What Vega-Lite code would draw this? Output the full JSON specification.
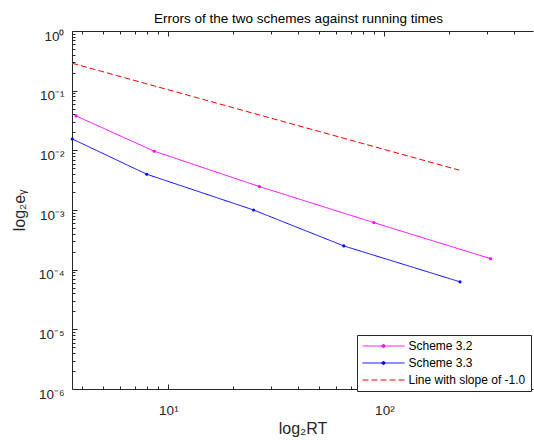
{
  "$schema": "https://vega.github.io/schema/vega-lite/v6.json",
  "width": 461,
  "height": 358,
  "autosize": {"type": "none"},
  "padding": {"left": 72, "top": 31, "right": 1, "bottom": 57},
  "background": "white",
  "title": {"text": "Errors of the two schemes against running times", "fontSize": 13.5, "fontWeight": "normal", "font": "Liberation Sans", "color": "#000000", "offset": 4, "dx": -4, "anchor": "middle"},
  "config": {
    "view": {"stroke": null},
    "font": "Liberation Sans",
    "axis": {"grid": false, "domainColor": "#262626", "tickColor": "#262626", "labelColor": "#262626", "titleColor": "#262626", "labelFont": "Liberation Sans", "titleFont": "Liberation Sans", "domainWidth": 1, "tickWidth": 1}
  },
  "data": {"values": [
    {"series": "Scheme 3.2", "x": 3.74, "y": 0.0377},
    {"series": "Scheme 3.2", "x": 8.61, "y": 0.00966},
    {"series": "Scheme 3.2", "x": 26.4, "y": 0.00247},
    {"series": "Scheme 3.2", "x": 89.4, "y": 0.000615},
    {"series": "Scheme 3.2", "x": 310, "y": 0.000153},
    {"series": "Scheme 3.3", "x": 3.59, "y": 0.0155},
    {"series": "Scheme 3.3", "x": 7.94, "y": 0.00398},
    {"series": "Scheme 3.3", "x": 24.8, "y": 0.001},
    {"series": "Scheme 3.3", "x": 64.9, "y": 0.00025},
    {"series": "Scheme 3.3", "x": 224, "y": 0.0000625},
    {"series": "Line with slope of -1.0", "x": 3.59, "y": 0.288},
    {"series": "Line with slope of -1.0", "x": 222, "y": 0.00466}
  ]},
  "resolve": {"axis": {"x": "independent", "y": "independent"}},
  "layer": [
    {
      "mark": {"type": "line", "strokeWidth": 1},
      "encoding": {
        "x": {"field": "x", "type": "quantitative", "scale": {"type": "log", "domain": [3.58, 487.6], "nice": false},
          "axis": {"orient": "bottom", "values": [10, 100], "ticks": false, "labelExpr": "datum.value < 50 ? '10¹' : '10²'", "labelFontSize": 13.5, "labelPadding": 14, "labelOverlap": false, "labelFlush": false, "title": "log₂RT", "titleFontSize": 16, "titleFontWeight": "normal", "titlePadding": 4, "domain": true}},
        "y": {"field": "y", "type": "quantitative", "scale": {"type": "log", "domain": [0.000001, 1], "nice": false},
          "axis": {"orient": "left", "values": [0.000001, 0.00001, 0.0001, 0.001, 0.01, 0.1, 1], "ticks": false, "labelExpr": "['10⁻⁶','10⁻⁵','10⁻⁴','10⁻³','10⁻²','10⁻¹','10⁰'][round(log(datum.value)/LN10)+6]", "labelFontSize": 13.5, "labelPadding": 8, "labelBaseline": "middle", "labelOffset": 5, "labelOverlap": false, "labelFlush": false, "title": "log₂eᵧ", "titleFontSize": 16, "titleFontWeight": "normal", "titlePadding": 11, "domain": true}},
        "color": {"field": "series", "type": "nominal",
          "scale": {"domain": ["Scheme 3.2", "Scheme 3.3", "Line with slope of -1.0"], "range": ["#ff00ff", "#0000ff", "#ff0000"]},
          "legend": {"orient": "none", "legendX": 285, "legendY": 304, "title": null, "strokeColor": "#262626", "fillColor": "white", "padding": 5, "rowPadding": 5, "labelFontSize": 12, "labelColor": "#000000", "labelFont": "Liberation Sans", "symbolSize": 100, "symbolOffset": 15.5, "labelOffset": 19, "symbolStrokeWidth": 1, "symbolType": "M-4.2,0H4.2", "labelLimit": 300,
            "encode": {"symbols": {"update": {
              "shape": {"signal": "datum.value === 'Line with slope of -1.0' ? 'M-4.2,0H4.2' : 'M-4.2,0H4.2M-0.3,0A0.3,0.3,0,1,1,0.3,0A0.3,0.3,0,1,1,-0.3,0'"},
              "fill": {"scale": "color", "field": "value"}
            }}}}},
        "strokeDash": {"field": "series", "type": "nominal",
          "scale": {"domain": ["Scheme 3.2", "Scheme 3.3", "Line with slope of -1.0"], "range": [[1, 0], [1, 0], [6, 3]]}},
        "detail": {"field": "series"}
      }
    },
    {
      "transform": [{"filter": "datum.series !== 'Line with slope of -1.0'"}],
      "mark": {"type": "point", "filled": true, "size": 10, "opacity": 1},
      "encoding": {
        "x": {"field": "x", "type": "quantitative", "scale": {"type": "log", "domain": [3.58, 487.6], "nice": false},
          "axis": {"orient": "bottom", "values": [10, 100], "labels": false, "domain": false, "tickSize": -5, "title": null}},
        "y": {"field": "y", "type": "quantitative", "scale": {"type": "log", "domain": [0.000001, 1], "nice": false},
          "axis": {"orient": "left", "values": [0.000001, 0.00001, 0.0001, 0.001, 0.01, 0.1, 1], "labels": false, "domain": false, "tickSize": -5, "title": null}},
        "color": {"field": "series", "type": "nominal", "legend": null,
          "scale": {"domain": ["Scheme 3.2", "Scheme 3.3", "Line with slope of -1.0"], "range": ["#ff00ff", "#0000ff", "#ff0000"]}}
      }
    },
    {
      "mark": {"type": "point", "opacity": 0},
      "encoding": {
        "x": {"field": "x", "type": "quantitative", "scale": {"type": "log", "domain": [3.58, 487.6], "nice": false},
          "axis": {"orient": "bottom", "values": [4, 5, 6, 7, 8, 9, 20, 30, 40, 50, 60, 70, 80, 90, 200, 300, 400], "labels": false, "domain": false, "tickSize": -3, "title": null}},
        "y": {"field": "y", "type": "quantitative", "scale": {"type": "log", "domain": [0.000001, 1], "nice": false},
          "axis": {"orient": "left", "values": [2e-6, 3e-6, 4e-6, 5e-6, 6e-6, 7e-6, 8e-6, 9e-6, 2e-5, 3e-5, 4e-5, 5e-5, 6e-5, 7e-5, 8e-5, 9e-5, 2e-4, 3e-4, 4e-4, 5e-4, 6e-4, 7e-4, 8e-4, 9e-4, 2e-3, 3e-3, 4e-3, 5e-3, 6e-3, 7e-3, 8e-3, 9e-3, 2e-2, 3e-2, 4e-2, 5e-2, 6e-2, 7e-2, 8e-2, 9e-2, 0.2, 0.3, 0.4, 0.5, 0.6, 0.7, 0.8, 0.9], "labels": false, "domain": false, "tickSize": -3, "title": null}}
      }
    },
    {
      "mark": {"type": "point", "opacity": 0},
      "encoding": {
        "x": {"field": "x", "type": "quantitative", "scale": {"type": "log", "domain": [3.58, 487.6], "nice": false},
          "axis": {"orient": "top", "values": [10, 100], "labels": false, "domain": true, "tickSize": -5, "title": null}},
        "y": {"field": "y", "type": "quantitative", "scale": {"type": "log", "domain": [0.000001, 1], "nice": false}, "axis": null}
      }
    },
    {
      "mark": {"type": "point", "opacity": 0},
      "encoding": {
        "x": {"field": "x", "type": "quantitative", "scale": {"type": "log", "domain": [3.58, 487.6], "nice": false},
          "axis": {"orient": "top", "values": [4, 5, 6, 7, 8, 9, 20, 30, 40, 50, 60, 70, 80, 90, 200, 300, 400], "labels": false, "domain": false, "tickSize": -3, "title": null}},
        "y": {"field": "y", "type": "quantitative", "scale": {"type": "log", "domain": [0.000001, 1], "nice": false}, "axis": null}
      }
    }
  ]
}
